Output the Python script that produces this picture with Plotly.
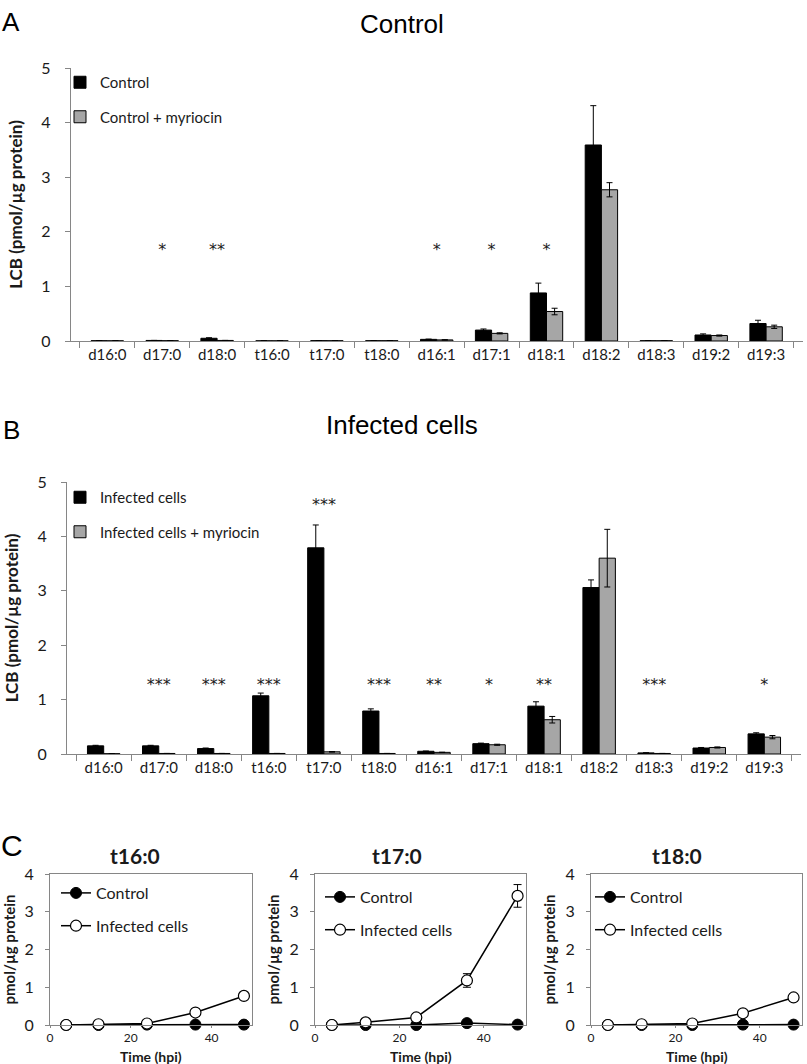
import plotly.graph_objects as go

# ---------------- data ----------------
categories = ["d16:0", "d17:0", "d18:0", "t16:0", "t17:0", "t18:0", "d16:1",
              "d17:1", "d18:1", "d18:2", "d18:3", "d19:2", "d19:3"]

ctrl = [0.005, 0.01, 0.05, 0.003, 0.006, 0.005, 0.03, 0.20, 0.88, 3.59, 0.005, 0.11, 0.32]
ctrl_err = [0, 0, 0.01, 0, 0, 0, 0.005, 0.02, 0.18, 0.72, 0, 0.02, 0.06]
ctrl_myr = [0.003, 0.005, 0.01, 0.003, 0.005, 0.005, 0.02, 0.14, 0.54, 2.77, 0.005, 0.10, 0.26]
ctrl_myr_err = [0, 0, 0, 0, 0, 0, 0.003, 0.01, 0.06, 0.13, 0, 0.01, 0.03]
stars_A = ["", "*", "**", "", "", "", "*", "*", "*", "", "", "", ""]

inf = [0.15, 0.15, 0.10, 1.07, 3.79, 0.79, 0.05, 0.19, 0.88, 3.06, 0.02, 0.11, 0.37]
inf_err = [0.01, 0.01, 0.01, 0.05, 0.42, 0.04, 0.005, 0.01, 0.08, 0.14, 0.003, 0.01, 0.02]
inf_myr = [0.005, 0.01, 0.01, 0.01, 0.04, 0.01, 0.03, 0.17, 0.63, 3.60, 0.01, 0.12, 0.31]
inf_myr_err = [0, 0, 0, 0, 0.005, 0, 0.003, 0.01, 0.06, 0.53, 0, 0.01, 0.03]
stars_B = ["", "***", "***", "***", "***", "***", "**", "*", "**", "", "***", "", "*"]

hours = [4, 12, 24, 36, 48]
t16_ctrl = [0, 0, 0.01, 0.01, 0.01]
t16_inf = [0, 0.02, 0.04, 0.33, 0.77]
t17_ctrl = [0, 0, 0, 0.05, 0.01]
t17_inf = [0, 0.07, 0.20, 1.18, 3.42]
t17_inf_err = [0, 0, 0, 0.18, 0.30]
t18_ctrl = [0, 0, 0, 0.01, 0.01]
t18_inf = [0, 0.02, 0.04, 0.31, 0.73]

# ---------------- helpers ----------------
W, H = 807, 1064
def px(x):
    return x / W
def py(y):
    return 1 - y / H

FONT = "Lato, 'Open Sans', sans-serif"
TFONT = "'Liberation Sans', Arial, sans-serif"
STARFONT = "'DejaVu Sans', sans-serif"
TXT = "#1a1a1a"
AX = "#868686"
GRAY = "#a6a6a6"

fig = go.Figure()

def star_y(vals, errs, vals2, errs2, level):
    out = []
    for a, ea, b, eb in zip(vals, errs, vals2, errs2):
        top = max(a + ea, b + eb)
        out.append(top + 0.34 if top > level else level)
    return out

# ---------------- Panel A ----------------
fig.add_trace(go.Bar(x=categories, y=ctrl, name="Control", xaxis="x", yaxis="y",
                     marker=dict(color="black", line=dict(color="black", width=1)),
                     error_y=dict(type="data", array=ctrl_err, color="black", thickness=1, width=3),
                     legend="legend", legendgroup="a1", offsetgroup="1"))
fig.add_trace(go.Bar(x=categories, y=ctrl_myr, name="Control + myriocin", xaxis="x", yaxis="y",
                     marker=dict(color=GRAY, line=dict(color="black", width=1)),
                     error_y=dict(type="data", array=ctrl_myr_err, color="black", thickness=1, width=3),
                     legend="legend", legendgroup="a2", offsetgroup="2"))
fig.add_trace(go.Scatter(x=categories, y=star_y(ctrl, ctrl_err, ctrl_myr, ctrl_myr_err, 1.65),
                         text=stars_A, mode="text", xaxis="x", yaxis="y", showlegend=False,
                         textfont=dict(family=STARFONT, size=16, color=TXT), cliponaxis=False))

# ---------------- Panel B ----------------
fig.add_trace(go.Bar(x=categories, y=inf, name="Infected cells", xaxis="x2", yaxis="y2",
                     marker=dict(color="black", line=dict(color="black", width=1)),
                     error_y=dict(type="data", array=inf_err, color="black", thickness=1, width=3),
                     legend="legend2", legendgroup="b1", offsetgroup="1"))
fig.add_trace(go.Bar(x=categories, y=inf_myr, name="Infected cells + myriocin", xaxis="x2", yaxis="y2",
                     marker=dict(color=GRAY, line=dict(color="black", width=1)),
                     error_y=dict(type="data", array=inf_myr_err, color="black", thickness=1, width=3),
                     legend="legend2", legendgroup="b2", offsetgroup="2"))
fig.add_trace(go.Scatter(x=categories, y=star_y(inf, inf_err, inf_myr, inf_myr_err, 1.25),
                         text=stars_B, mode="text", xaxis="x2", yaxis="y2", showlegend=False,
                         textfont=dict(family=STARFONT, size=16, color=TXT), cliponaxis=False))

# ---------------- Panel C ----------------
c_sets = [
    ("x3", "y3", "legend3", t16_ctrl, t16_inf, None),
    ("x4", "y4", "legend4", t17_ctrl, t17_inf, t17_inf_err),
    ("x5", "y5", "legend5", t18_ctrl, t18_inf, None),
]
for i, (xa, ya, lg, cv, iv, ie) in enumerate(c_sets):
    fig.add_trace(go.Scatter(x=hours, y=cv, name="Control", xaxis=xa, yaxis=ya,
                             mode="lines+markers", line=dict(color="black", width=1.5),
                             marker=dict(color="black", size=11, line=dict(color="black", width=1)),
                             legend=lg, legendgroup=f"c{i}a", cliponaxis=False))
    err = dict(type="data", array=ie, color="black", thickness=1, width=4) if ie else None
    fig.add_trace(go.Scatter(x=hours, y=iv, name="Infected cells", xaxis=xa, yaxis=ya,
                             mode="lines+markers", line=dict(color="black", width=1.5),
                             marker=dict(color="white", size=11, line=dict(color="black", width=1.2)),
                             error_y=err,
                             legend=lg, legendgroup=f"c{i}b", cliponaxis=False))

# ---------------- layout ----------------
def bar_x(d0, d1, anchor):
    return dict(domain=[px(d0), px(d1)], type="category", showline=True, linecolor=AX,
                ticks="outside", tickson="boundaries", ticklen=6, tickcolor=AX, anchor=anchor,
                tickfont=dict(family=FONT, size=15, color=TXT), showgrid=False, zeroline=False,
                fixedrange=True)

def bar_y(y0, y5, anchor):
    return dict(domain=[py(y0), py(y5)], range=[0, 5], dtick=1, showline=True, linecolor=AX,
                ticks="outside", ticklen=5, tickcolor=AX, anchor=anchor,
                tickfont=dict(family=FONT, size=16, color=TXT), ticklabelstandoff=11,
                showgrid=False, zeroline=False,
                title=dict(text="<b>LCB (pmol/µg protein)</b>", standoff=14,
                           font=dict(family=FONT, size=17, color=TXT)))

def c_x(l, r, anchor):
    return dict(domain=[px(l), px(r)], range=[0, 50], tickvals=[0, 20, 40], showline=True,
                mirror=True, linecolor=AX, ticks="outside", ticklen=2, tickcolor=AX,
                tickfont=dict(family=FONT, size=12, color=TXT), ticklabelstandoff=0,
                anchor=anchor, showgrid=False, zeroline=False)

def c_y(anchor):
    return dict(domain=[py(1025), py(874)], range=[0, 4], dtick=1, showline=True, mirror=True,
                linecolor=AX, ticks="outside", ticklen=4, tickcolor=AX, anchor=anchor,
                tickfont=dict(family=FONT, size=16, color=TXT), ticklabelstandoff=8,
                showgrid=False, zeroline=False,
                title=dict(text="<b>pmol/µg protein</b>", standoff=6,
                           font=dict(family=FONT, size=15, color=TXT)))

def c_legend(x, y):
    return dict(x=px(x), y=py(y), xanchor="left", yanchor="top", bgcolor="rgba(0,0,0,0)",
                font=dict(family=FONT, size=16, color=TXT), tracegroupgap=9, itemwidth=30)

fig.update_layout(
    width=W, height=H, margin=dict(l=0, r=0, t=0, b=0, autoexpand=False),
    plot_bgcolor="white", paper_bgcolor="white",
    barmode="group", bargap=0.41, bargroupgap=0.0,
    xaxis=bar_x(70.7, 802.7, "y"), yaxis=bar_y(341, 68, "x"),
    xaxis2=bar_x(67, 801, "y2"), yaxis2=bar_y(754, 482, "x2"),
    xaxis3=c_x(50, 252, "y3"), yaxis3=c_y("x3"),
    xaxis4=c_x(315, 526, "y4"), yaxis4=c_y("x4"),
    xaxis5=c_x(591, 802, "y5"), yaxis5=c_y("x5"),
    legend=dict(x=px(60), y=py(66), xanchor="left", yanchor="top", bgcolor="rgba(0,0,0,0)",
                font=dict(family=FONT, size=15, color=TXT), tracegroupgap=12, itemwidth=30),
    legend2=dict(x=px(60), y=py(481), xanchor="left", yanchor="top", bgcolor="rgba(0,0,0,0)",
                 font=dict(family=FONT, size=15, color=TXT), tracegroupgap=12, itemwidth=30),
    legend3=c_legend(56, 876),
    legend4=c_legend(320, 880),
    legend5=c_legend(590, 880),
    showlegend=True,
)

ann = [
    dict(text="A", x=px(11), y=py(22), font=dict(family=TFONT, size=26, color="black")),
    dict(text="Control", x=px(402), y=py(24), font=dict(family=TFONT, size=26, color="black")),
    dict(text="B", x=px(11), y=py(430), font=dict(family=TFONT, size=26, color="black")),
    dict(text="Infected cells", x=px(402), y=py(425), font=dict(family=TFONT, size=26, color="black")),
    dict(text="C", x=px(12), y=py(845), font=dict(family=TFONT, size=30, color="black")),
    dict(text="<b>t16:0</b>", x=px(135), y=py(855), font=dict(family=FONT, size=21, color=TXT)),
    dict(text="<b>t17:0</b>", x=px(397), y=py(855), font=dict(family=FONT, size=21, color=TXT)),
    dict(text="<b>t18:0</b>", x=px(677), y=py(855), font=dict(family=FONT, size=21, color=TXT)),
]
for cx in [(50 + 252) / 2, (315 + 526) / 2, (591 + 802) / 2]:
    ann.append(dict(text="<b>Time (hpi)</b>", x=px(cx), y=py(1056),
                    font=dict(family=FONT, size=14, color=TXT)))
for a in ann:
    a.update(xref="paper", yref="paper", showarrow=False, xanchor="center", yanchor="middle")
fig.update_layout(annotations=ann)

fig.write_html("out.html", config={"displayModeBar": False},
               post_script="document.body.style.margin='0px';")
